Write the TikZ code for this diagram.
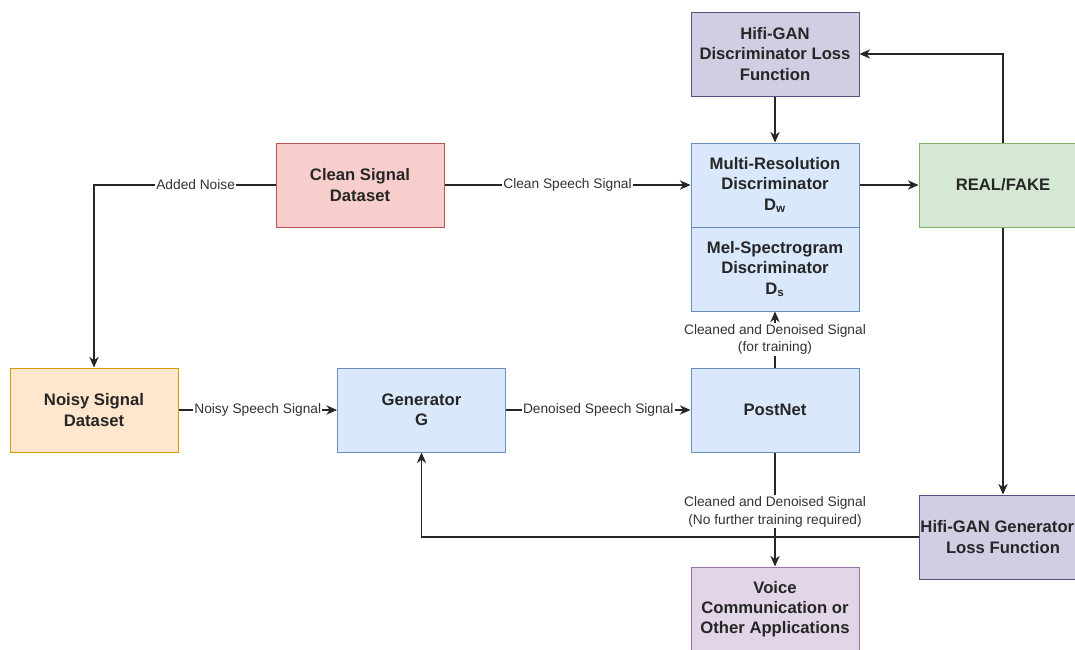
\documentclass[tikz,border=0pt]{standalone}
\usepackage{fontspec}
\setmainfont{Liberation Sans}
\usetikzlibrary{arrows.meta}
\definecolor{lossfill}{HTML}{D0CEE2}\definecolor{lossdraw}{HTML}{56517E}
\definecolor{bluefill}{HTML}{DAE8FC}\definecolor{bluedraw}{HTML}{6C8EBF}
\definecolor{greenfill}{HTML}{D5E8D4}\definecolor{greendraw}{HTML}{82B366}
\definecolor{redfill}{HTML}{F8CECC}\definecolor{reddraw}{HTML}{B85450}
\definecolor{orangefill}{HTML}{FFE6CC}\definecolor{orangedraw}{HTML}{D79B00}
\definecolor{purplefill}{HTML}{E1D5E7}\definecolor{purpledraw}{HTML}{9673A6}
\begin{document}
\begin{tikzpicture}[x=0.75pt,y=-0.75pt,
  box/.style={rectangle, draw, line width=0.75pt, minimum width=126pt, minimum height=63pt,
    align=center, inner sep=0pt, font=\fontsize{12.5}{15.2}\selectfont\bfseries, text=black!85},
  lossbox/.style={box, fill=lossfill, draw=lossdraw},
  bluebox/.style={box, fill=bluefill, draw=bluedraw},
  greenbox/.style={box, fill=greenfill, draw=greendraw},
  redbox/.style={box, fill=redfill, draw=reddraw},
  orangebox/.style={box, fill=orangefill, draw=orangedraw},
  purplebox/.style={box, fill=purplefill, draw=purpledraw},
  conn/.style={draw=black!85, line width=0.9pt, -{Stealth[length=8pt,width=7pt]}},
  lbl/.style={fill=white, inner sep=1pt, align=center, font=\fontsize{10.3}{13.2}\selectfont, text=black!80}]
\useasboundingbox (0,0) rectangle (1075,650);
\node[lossbox] (dloss) at (775,54) {Hifi-GAN\\Discriminator Loss\\Function};
\node[bluebox] (mrd) at (775,185) {Multi-Resolution\\Discriminator\\D\textsubscript{w}};
\node[bluebox] (mel) at (775,269) {Mel-Spectrogram\\Discriminator\\D\textsubscript{s}};
\node[greenbox] (rf) at (1003,185) {REAL/FAKE};
\node[redbox] (clean) at (360,185) {Clean Signal\\Dataset};
\node[orangebox] (noisy) at (94,410) {Noisy Signal\\Dataset};
\node[bluebox] (gen) at (421.5,410) {Generator\\G};
\node[bluebox] (post) at (775,410) {PostNet};
\node[lossbox] (gloss) at (1003,537) {\hspace*{-8.5pt}Hifi-GAN Generator\\Loss Function};
\node[purplebox] (voice) at (775,609) {Voice\\Communication or\\Other Applications};

\draw[conn] (clean.west) -| node[lbl, pos=0.22] {Added Noise} (noisy.north);
\draw[conn] (clean.east) -- node[lbl] {Clean Speech Signal} (mrd.west);
\draw[conn] (noisy.east) -- node[lbl] {Noisy Speech Signal} (gen.west);
\draw[conn] (gen.east) -- node[lbl] {Denoised Speech Signal} (post.west);
\draw[conn] (post.north) -- node[lbl] {Cleaned and Denoised Signal\\(for training)} (mel.south);
\draw[conn] (post.south) -- node[lbl, pos=0.52] {Cleaned and Denoised Signal\\(No further training required)} (voice.north);
\draw[conn] (dloss.south) -- (mrd.north);
\draw[conn] (mrd.east) -- (rf.west);
\draw[conn] (rf.north) |- (dloss.east);
\draw[conn] (rf.south) -- (gloss.north);
\draw[conn] (gloss.west) -| (gen.south);
\end{tikzpicture}
\end{document}
